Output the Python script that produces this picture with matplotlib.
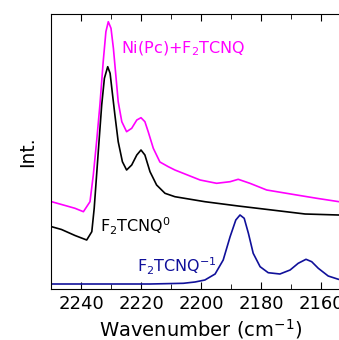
import matplotlib
matplotlib.use('Agg')
import matplotlib.pyplot as plt
from matplotlib.ticker import MultipleLocator

# wavenumber (cm-1) and intensity (arb. units)
wn_anion = [2250, 2233.7, 2217, 2205.9, 2202, 2198.7, 2195.3, 2192.6, 2190.3, 2188.4,
            2187, 2185.6, 2184.2, 2182.6, 2180.3, 2177.6, 2173.7, 2170.3, 2167.6, 2165,
            2163.1, 2160.9, 2157.6, 2154.2, 2150]
int_anion = [5, 5, 5, 5.7, 7, 9, 15, 29, 52.3, 69,
             74, 70.7, 55.7, 35.7, 22.3, 16.3, 15, 19, 25.7, 29.7,
             27.3, 20.7, 13, 9.7, 8]

wn_neutral = [2249.8, 2246.5, 2242, 2238.1, 2236.4, 2235.6, 2234.8, 2234, 2233.1, 2232.2,
              2231.1, 2230.3, 2229.6, 2228.7, 2227.6, 2226.2, 2224.8, 2223.1, 2221.4, 2220,
              2218.7, 2217, 2214.8, 2212, 2208.7, 2198.7, 2187.6, 2176.4, 2165.3, 2154.2,
              2150]
int_neutral = [62.3, 59.5, 53.5, 49, 57.3, 80.7, 114, 147.3, 184, 210.7,
               222.3, 215.7, 197.3, 174, 147.3, 127.3, 119, 124, 134, 139,
               134, 117.3, 104, 95.7, 92.3, 87.3, 83, 79, 75, 74,
               74]

wn_mix = [2249.8, 2244.7, 2242, 2239.2, 2237, 2235.9, 2234.8, 2233.7, 2232.6, 2231.7,
          2230.9, 2230, 2229.2, 2228.4, 2227.6, 2226.4, 2224.8, 2223.1, 2221.4, 2220,
          2218.7, 2217.6, 2215.9, 2213.7, 2210.9, 2208.7, 2200.3, 2194.8, 2190.3, 2187.6,
          2183.7, 2178.1, 2168.1, 2161.4, 2154, 2150]
int_mix = [87.3, 83, 80.7, 77.3, 87.3, 114, 147.3, 184, 227.3, 257.3,
           267.3, 260.7, 240.7, 214, 187.3, 167.3, 157.3, 160.7, 169, 171.3,
           167.3, 157.3, 140.7, 127, 122.3, 119, 109, 105.7, 107.3, 109.7,
           105.7, 99, 94, 90.7, 87.3, 86]

plt.rcParams['font.family'] = 'DejaVu Sans'
fig = plt.figure(figsize=(3.39, 3.40), dpi=100)
ax = fig.add_axes([51/339, 51/340, 300/339, 275/340])

ax.plot(wn_mix, int_mix, color='#ff00ff', linewidth=1.2)
ax.plot(wn_neutral, int_neutral, color='black', linewidth=1.2)
ax.plot(wn_anion, int_anion, color='#10109a', linewidth=1.2)

ax.text(2226.7, 240, 'Ni(Pc)+F$_2$TCNQ', color='#ff00ff', fontsize=11.5, va='center')
ax.text(2233.5, 63, 'F$_2$TCNQ$^0$', color='black', fontsize=11.5, va='center')
ax.text(2221.2, 23, 'F$_2$TCNQ$^{-1}$', color='#10109a', fontsize=11.5, va='center')

ax.set_xlim(2250, 2150)
ax.set_ylim(0, 275)
ax.xaxis.set_major_locator(MultipleLocator(20))
ax.xaxis.set_minor_locator(MultipleLocator(10))
ax.tick_params(axis='x', which='both', direction='in', top=True, labelsize=13, pad=4)
ax.tick_params(axis='x', which='major', length=5)
ax.tick_params(axis='x', which='minor', length=3.5)
ax.set_yticks([])
ax.spines['right'].set_visible(False)
ax.set_xlabel('Wavenumber (cm$^{-1}$)', fontsize=14, labelpad=3)
ax.set_ylabel('Int.', fontsize=13.5, labelpad=10)

fig.savefig('out.png', dpi=100)
